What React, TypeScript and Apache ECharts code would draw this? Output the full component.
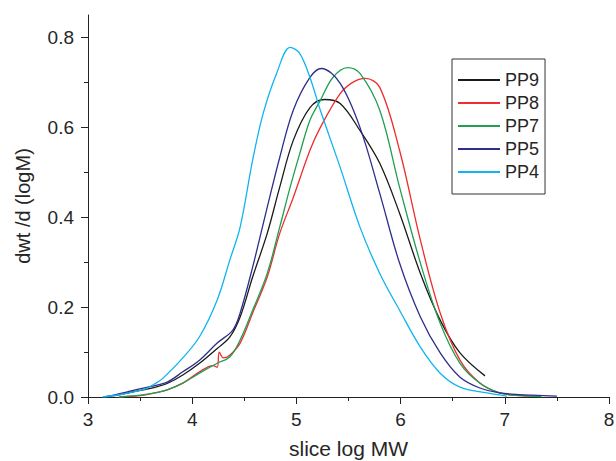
import React, { useEffect, useRef } from "react";
import * as echarts from "echarts";

const seriesNames = ["PP9", "PP8", "PP7", "PP5", "PP4"];
const seriesColors = ["#1a1a1a", "#ee2d2d", "#1fa052", "#2e2e8c", "#10b4f0"];

const pp9: number[][] = [
  [3.15, 0], [3.28, 0.004], [3.4, 0.01], [3.53, 0.016], [3.65, 0.022], [3.76, 0.03],
  [3.91, 0.049], [4.07, 0.075], [4.24, 0.108], [4.36, 0.133], [4.46, 0.178], [4.58, 0.267],
  [4.72, 0.364], [4.84, 0.467], [4.97, 0.571], [5.13, 0.644], [5.27, 0.662], [5.42, 0.653],
  [5.61, 0.593], [5.8, 0.52], [5.99, 0.409], [6.19, 0.275], [6.38, 0.171], [6.57, 0.098],
  [6.81, 0.047],
];
const pp8: number[][] = [
  [3.3, 0], [3.5, 0.003], [3.64, 0.009], [3.76, 0.016], [3.91, 0.031], [4.07, 0.056],
  [4.2, 0.07], [4.24, 0.066], [4.26, 0.1], [4.3, 0.087], [4.36, 0.093], [4.46, 0.12],
  [4.58, 0.187], [4.72, 0.267], [4.84, 0.364], [4.97, 0.444], [5.13, 0.549], [5.23, 0.6],
  [5.42, 0.675], [5.54, 0.7], [5.66, 0.709], [5.8, 0.689], [5.99, 0.549], [6.19, 0.349],
  [6.38, 0.187], [6.57, 0.082], [6.76, 0.031], [6.95, 0.009], [7.15, 0.003], [7.34, 0.002],
];
const pp7: number[][] = [
  [3.3, 0], [3.5, 0.004], [3.64, 0.009], [3.76, 0.016], [3.91, 0.031], [4.07, 0.053],
  [4.24, 0.075], [4.36, 0.089], [4.46, 0.127], [4.58, 0.193], [4.72, 0.275], [4.84, 0.378],
  [4.94, 0.467], [5.03, 0.54], [5.13, 0.616], [5.23, 0.66], [5.35, 0.711], [5.49, 0.733],
  [5.61, 0.72], [5.8, 0.638], [5.99, 0.467], [6.19, 0.298], [6.38, 0.164], [6.57, 0.075],
  [6.76, 0.031], [6.95, 0.009], [7.15, 0.003], [7.35, 0.001],
];
const pp5: number[][] = [
  [3.15, 0], [3.21, 0.002], [3.37, 0.011], [3.53, 0.02], [3.65, 0.026], [3.76, 0.033],
  [3.91, 0.056], [4.07, 0.082], [4.24, 0.12], [4.39, 0.149], [4.46, 0.187], [4.58, 0.289],
  [4.72, 0.422], [4.84, 0.533], [4.97, 0.638], [5.13, 0.711], [5.24, 0.731], [5.42, 0.698],
  [5.61, 0.6], [5.8, 0.453], [5.99, 0.298], [6.19, 0.178], [6.38, 0.098], [6.57, 0.044],
  [6.76, 0.02], [6.95, 0.009], [7.27, 0.004], [7.5, 0.002],
];
const pp4: number[][] = [
  [3.14, 0], [3.3, 0.005], [3.45, 0.012], [3.55, 0.018], [3.66, 0.032], [3.72, 0.042],
  [3.91, 0.087], [4.07, 0.134], [4.24, 0.216], [4.36, 0.304], [4.46, 0.378], [4.58, 0.527],
  [4.68, 0.63], [4.81, 0.72], [4.94, 0.778], [5.03, 0.765], [5.13, 0.711], [5.23, 0.638],
  [5.42, 0.511], [5.61, 0.378], [5.8, 0.275], [5.99, 0.193], [6.19, 0.111], [6.38, 0.053],
  [6.57, 0.022], [6.83, 0.009], [7.02, 0.002],
];
const seriesData = [pp9, pp8, pp7, pp5, pp4];

const yMajorTicks = [0, 0.2, 0.4, 0.6, 0.8];
const yMinorTicks = [0.1, 0.3, 0.5, 0.7];

const FONT = "'Liberation Sans', Arial, sans-serif";
const AXIS_COLOR = "#222";
const TEXT_COLOR = "#262626";

export default function App() {
  const ref = useRef<HTMLDivElement>(null);
  useEffect(() => {
    if (!ref.current) return;
    const chart = echarts.init(ref.current, undefined, { renderer: "svg" });
    chart.setOption({
      animation: false,
      backgroundColor: "#fff",
      textStyle: { fontFamily: FONT },
      grid: { left: 88, right: 7, top: 15, bottom: 64, containLabel: false, outerBoundsMode: "none" },
      legend: {
        orient: "vertical",
        left: 452,
        top: 59,
        width: 94,
        padding: [12, 6, 13, 6],
        borderColor: "#333",
        borderWidth: 1,
        itemWidth: 42,
        itemHeight: 2,
        itemGap: 5,
        icon: "rect",
        textStyle: { fontSize: 18, color: TEXT_COLOR, fontFamily: FONT, lineHeight: 18 },
        data: seriesNames,
      },
      xAxis: {
        type: "value",
        min: 3,
        max: 8,
        interval: 1,
        name: "slice log MW",
        nameLocation: "middle",
        nameGap: 41,
        nameTextStyle: { fontSize: 21, color: TEXT_COLOR, fontFamily: FONT },
        axisLine: { lineStyle: { color: AXIS_COLOR, width: 1 } },
        axisTick: { inside: false, length: 7, lineStyle: { color: AXIS_COLOR } },
        minorTick: { show: true, splitNumber: 2, length: 4, lineStyle: { color: AXIS_COLOR } },
        axisLabel: { fontSize: 19, color: TEXT_COLOR, margin: 13, fontFamily: FONT },
        splitLine: { show: false },
      },
      yAxis: [
        {
          type: "value",
          min: 0,
          max: 0.85,
          name: "dwt /d (logM)",
          nameLocation: "middle",
          nameGap: 55,
          nameTextStyle: { fontSize: 20, color: TEXT_COLOR, fontFamily: FONT },
          axisLine: { show: true, lineStyle: { color: AXIS_COLOR, width: 1 } },
          axisTick: { show: true, length: 7, customValues: yMajorTicks, lineStyle: { color: AXIS_COLOR } },
          axisLabel: {
            fontSize: 19,
            color: TEXT_COLOR,
            margin: 14,
            fontFamily: FONT,
            customValues: yMajorTicks,
            formatter: (v: number) => v.toFixed(1),
          },
          splitLine: { show: false },
        },
        {
          type: "value",
          min: 0,
          max: 0.85,
          position: "left",
          axisLine: { show: false },
          axisTick: { show: true, length: 4, customValues: yMinorTicks, lineStyle: { color: AXIS_COLOR } },
          axisLabel: { show: false, customValues: yMinorTicks },
          splitLine: { show: false },
        },
      ],
      series: seriesNames.map((name, i) => ({
        name,
        type: "line",
        yAxisIndex: 0,
        data: seriesData[i],
        smooth: 0.35,
        showSymbol: false,
        symbol: "none",
        lineStyle: { color: seriesColors[i], width: 1.3 },
        itemStyle: { color: seriesColors[i] },
      })),
    });
    return () => chart.dispose();
  }, []);
  return (
    <div
      ref={ref}
      style={{ position: "fixed", left: 0, top: 0, width: 616, height: 461, background: "#fff" }}
    />
  );
}
